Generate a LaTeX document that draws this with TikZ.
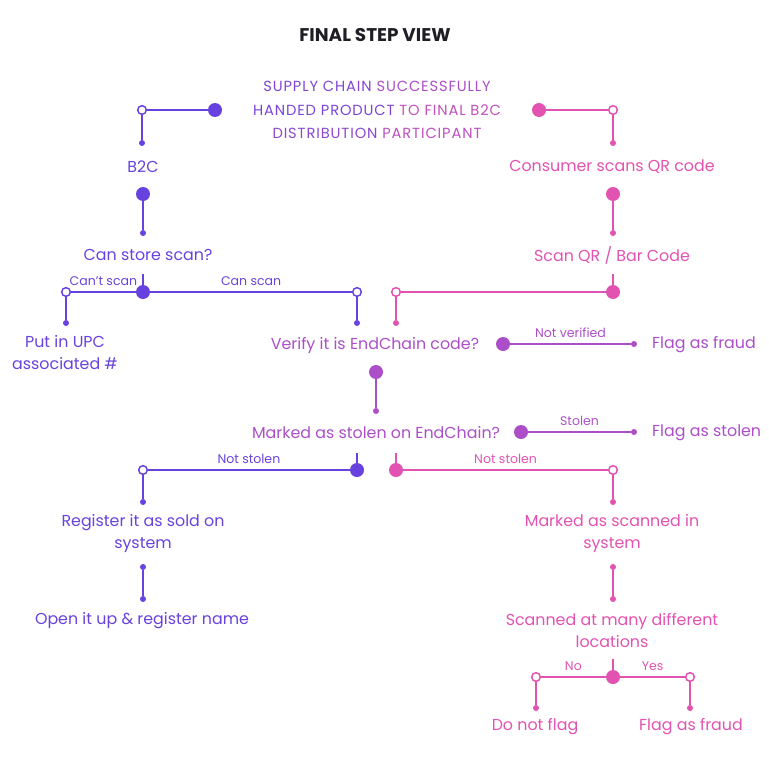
\documentclass[tikz,border=0pt]{standalone}
\usepackage{fontspec}
\setmainfont{Poppins}
\newfontfamily\capsfont[LetterSpace=6]{Poppins}
\usepackage{xcolor}
\usepackage{tikz}
\usetikzlibrary{positioning}
\definecolor{violetline}{RGB}{104, 66, 222}
\definecolor{orchidline}{RGB}{172, 78, 200}
\definecolor{pinkline}{RGB}{226, 82, 176}
\definecolor{titlegrey}{RGB}{30, 30, 36}

\begin{document}
\begin{tikzpicture}[
    x=0.75pt, y=-0.75pt,
    every node/.style={font=\fontsize{11.9}{16.5}\selectfont},
    steptext/.style={text=#1, align=center, inner sep=1pt},
    edgelabel/.style={font=\fontsize{9.4}{10}\selectfont, text=#1, above=1pt},
    bigdot/.style={circle, fill=#1, inner sep=0pt, minimum size=10.5pt},
    opendot/.style={circle, draw=#1, fill=white, line width=1.1pt, inner sep=0pt, minimum size=6.5pt},
    smalldot/.style={circle, fill=#1, inner sep=0pt, minimum size=4.5pt},
    link/.style={draw=#1, line width=1.1pt}
]
\useasboundingbox (0,0) rectangle (768,771);

% Title and headline
\node[font=\bfseries\fontsize{13.8}{16}\selectfont, text=titlegrey] (title) at (375,35) {FINAL STEP VIEW};
\node[align=center, font=\capsfont\fontsize{11}{17.6}\selectfont] (head) at (377,110)
  {\textcolor{violetline!80!pinkline}{SUPPLY CHAIN} \textcolor{orchidline}{SUCCESSFULLY}\\
   \textcolor{violetline!85!pinkline}{HANDED PRODUCT} \textcolor{orchidline!60!pinkline}{TO FINAL B2C}\\
   \textcolor{violetline!70!pinkline}{DISTRIBUTION} \textcolor{orchidline!70!pinkline}{PARTICIPANT}};

% Left branch: B2C
\node[bigdot=violetline] (b2cstart) at (215,110) {};
\node[opendot=violetline] (b2cturn) at (142,110) {};
\node[smalldot=violetline] (b2cend) at (142,143) {};
\draw[link=violetline] (b2cstart) -- (b2cturn) -- (b2cend);
\node[steptext=violetline] (b2c) at (143,167) {B2C};

\node[bigdot=violetline] (storestart) at (143,194) {};
\node[smalldot=violetline] (storeend) at (143,233) {};
\draw[link=violetline] (storestart) -- (storeend);
\node[steptext=violetline] (store) at (148,255) {Can store scan?};

% Can store scan? split
\coordinate (scanstub) at (143,274);
\node[bigdot=violetline] (scanfork) at (143,292) {};
\node[opendot=violetline] (cantturn) at (66,292) {};
\node[smalldot=violetline] (cantend) at (66,323) {};
\node[opendot=violetline] (canturn) at (357,292) {};
\node[smalldot=violetline] (canend) at (357,323) {};
\draw[link=violetline] (scanstub) -- (scanfork);
\draw[link=violetline] (scanfork) -- node[edgelabel=violetline] {Can’t scan} (cantturn) -- (cantend);
\draw[link=violetline] (scanfork) -- node[edgelabel=violetline] {Can scan} (canturn) -- (canend);
\node[steptext=violetline] (upc) at (65,353) {Put in UPC\\associated \#};

% Right branch: consumer
\node[bigdot=pinkline] (consstart) at (539,110) {};
\node[opendot=pinkline] (consturn) at (613,110) {};
\node[smalldot=pinkline] (consend) at (613,143) {};
\draw[link=pinkline] (consstart) -- (consturn) -- (consend);
\node[steptext=pinkline] (consumer) at (612,167) {Consumer scans QR code};

\node[bigdot=pinkline] (qrstart) at (613,194) {};
\node[smalldot=pinkline] (qrend) at (613,233) {};
\draw[link=pinkline] (qrstart) -- (qrend);
\node[steptext=pinkline] (qr) at (612,255) {Scan QR / Bar Code};

\coordinate (qrstub) at (613,274);
\node[bigdot=pinkline] (qrfork) at (613,292) {};
\node[opendot=pinkline] (verifyturn) at (396,292) {};
\node[smalldot=pinkline] (verifyin) at (396,323) {};
\draw[link=pinkline] (qrstub) -- (qrfork);
\draw[link=pinkline] (qrfork) -- (verifyturn) -- (verifyin);

% Verify step
\node[steptext=orchidline] (verify) at (375,345) {Verify it is EndChain code?};
\node[bigdot=orchidline] (fraudstart) at (503,344) {};
\node[smalldot=orchidline] (fraudend) at (634,344) {};
\draw[link=orchidline] (fraudstart) -- node[edgelabel=orchidline] {Not verified} (fraudend);
\node[steptext=orchidline, right=10pt of fraudend, yshift=-0.75pt] (fraud) {Flag as fraud};

\node[bigdot=orchidline] (stolenstart) at (376,372) {};
\node[smalldot=orchidline] (stolenend) at (376,411) {};
\draw[link=orchidline] (stolenstart) -- (stolenend);

% Stolen step
\node[steptext=orchidline] (stolen) at (376,433) {Marked as stolen on EndChain?};
\node[bigdot=orchidline] (flagstart) at (521,432) {};
\node[smalldot=orchidline] (flagend) at (634,432) {};
\draw[link=orchidline] (flagstart) -- node[edgelabel=orchidline] {Stolen} (flagend);
\node[steptext=orchidline, right=10pt of flagend, yshift=-0.75pt] (flagstolen) {Flag as stolen};

% Not stolen, store side
\coordinate (soldstub) at (357,453);
\node[bigdot=violetline] (soldfork) at (357,470) {};
\node[opendot=violetline] (soldturn) at (143,470) {};
\node[smalldot=violetline] (soldend) at (143,502) {};
\draw[link=violetline] (soldstub) -- (soldfork);
\draw[link=violetline] (soldfork) -- node[edgelabel=violetline] {Not stolen} (soldturn) -- (soldend);
\node[steptext=violetline] (sold) at (143,534) {Register it as sold on\\system};

\node[smalldot=violetline] (openstart) at (143,567) {};
\node[smalldot=violetline] (openend) at (143,599) {};
\draw[link=violetline] (openstart) -- (openend);
\node[steptext=violetline] (open) at (142,621) {Open it up \& register name};

% Not stolen, consumer side
\coordinate (markstub) at (396,453);
\node[bigdot=pinkline] (markfork) at (396,470) {};
\node[opendot=pinkline] (markturn) at (613,470) {};
\node[smalldot=pinkline] (markend) at (613,502) {};
\draw[link=pinkline] (markstub) -- (markfork);
\draw[link=pinkline] (markfork) -- node[edgelabel=pinkline] {Not stolen} (markturn) -- (markend);
\node[steptext=pinkline] (marked) at (612,534) {Marked as scanned in\\system};

\node[smalldot=pinkline] (manystart) at (613,567) {};
\node[smalldot=pinkline] (manyend) at (613,599) {};
\draw[link=pinkline] (manystart) -- (manyend);
\node[steptext=pinkline] (many) at (612,631) {Scanned at many different\\locations};

% Many locations split
\coordinate (manystub) at (613,659);
\node[bigdot=pinkline] (manyfork) at (613,677) {};
\node[opendot=pinkline] (noturn) at (536,677) {};
\node[smalldot=pinkline] (noend) at (536,708) {};
\node[opendot=pinkline] (yesturn) at (690,677) {};
\node[smalldot=pinkline] (yesend) at (690,708) {};
\draw[link=pinkline] (manystub) -- (manyfork);
\draw[link=pinkline] (manyfork) -- node[edgelabel=pinkline] {No} (noturn) -- (noend);
\draw[link=pinkline] (manyfork) -- node[edgelabel=pinkline] {Yes} (yesturn) -- (yesend);
\node[steptext=pinkline] (noflag) at (535,727) {Do not flag};
\node[steptext=pinkline] (yesflag) at (691,727) {Flag as fraud};

\end{tikzpicture}
\end{document}
